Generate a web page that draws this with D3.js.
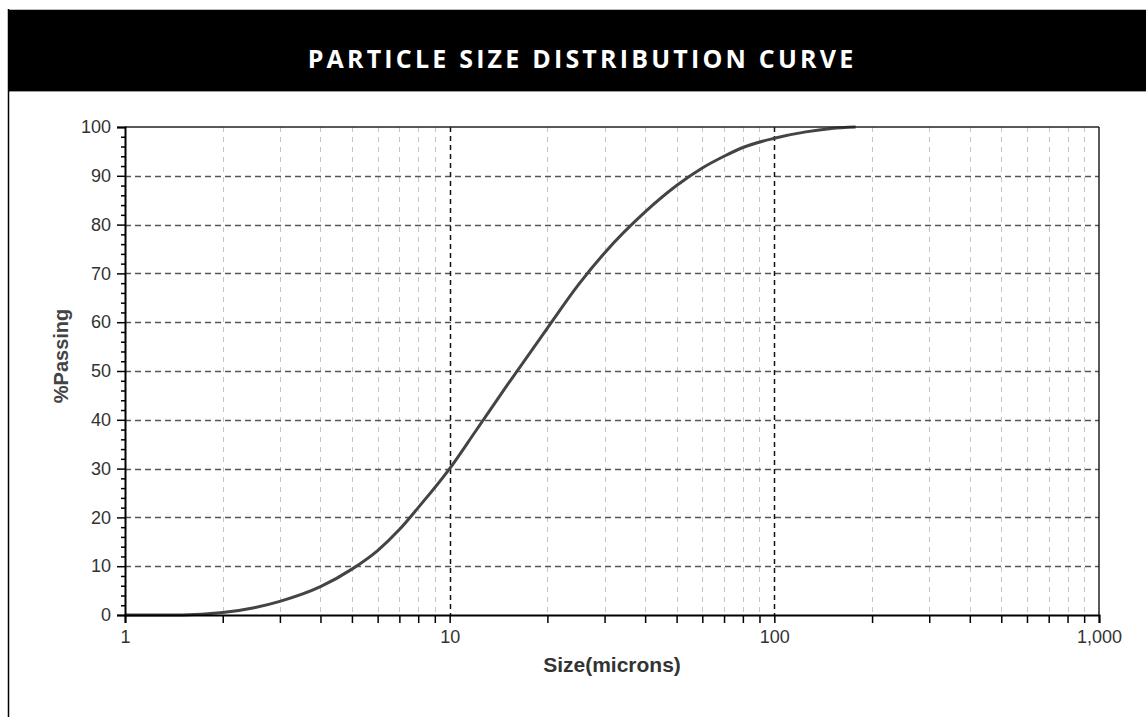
<!DOCTYPE html>
<html>
<head>
<meta charset="utf-8">
<script src="https://cdn.jsdelivr.net/npm/d3@7"></script>
<style>
  body { margin: 0; background: #fff; }
  svg { display: block; }
</style>
</head>
<body>
<div id="chart"></div>
<script>
// particle size (microns) vs cumulative % passing
var sizes   = [1, 1.5, 2, 2.5, 3, 4, 5, 6, 7, 8, 10, 12, 15, 20, 25, 30, 40, 50, 60, 70, 80, 100, 125, 150, 178];
var passing = [0, 0, 0.5, 1.5, 2.8, 5.8, 9.4, 13.2, 17.5, 22, 30, 37.6, 47, 58.8, 67.8, 74.2, 82.6, 88, 91.6, 94, 95.8, 97.7, 99, 99.7, 100];

var yTicks = [0, 10, 20, 30, 40, 50, 60, 70, 80, 90, 100];
var xLabels = [1, 10, 100, 1000];
var title = "PARTICLE SIZE DISTRIBUTION CURVE";

var W = 1146, H = 717;
var m = {left: 125, top: 127, right: 1099, bottom: 615};
var labelFont = "'Liberation Sans', Arial, sans-serif";

var svg = d3.select("#chart").append("svg")
    .attr("width", W)
    .attr("height", H);

// frame + header band
svg.append("line").attr("x1", 8).attr("x2", W).attr("y1", 9.5).attr("y2", 9.5)
    .attr("stroke", "#bbb").attr("stroke-width", 1);
svg.append("rect").attr("x", 8).attr("y", 10).attr("width", W - 8).attr("height", 81)
    .attr("fill", "#000");
svg.append("line").attr("x1", 8).attr("x2", W).attr("y1", 91.5).attr("y2", 91.5)
    .attr("stroke", "#999").attr("stroke-width", 1);
svg.append("line").attr("x1", 8.5).attr("x2", 8.5).attr("y1", 9).attr("y2", H)
    .attr("stroke", "#000").attr("stroke-width", 1.5);

svg.append("text")
    .attr("x", 582).attr("y", 68)
    .attr("text-anchor", "middle")
    .attr("fill", "#fff")
    .style("font-family", "'Open Sans', sans-serif")
    .style("font-weight", 700)
    .style("font-size", "25px")
    .style("letter-spacing", "3.2px")
    .text(title);

var x = d3.scaleLog().domain([1, 1000]).range([m.left, m.right]);
var y = d3.scaleLinear().domain([0, 100]).range([m.bottom, m.top]);

// every 1..9 step in each decade
var xMinor = [];
[1, 10, 100].forEach(function(dec) {
  for (var k = 1; k < 10; k++) xMinor.push(dec * k);
});
xMinor.push(1000);

var grid = svg.append("g");
// light vertical grid
grid.selectAll(".vminor")
    .data(xMinor.filter(function(d) { return xLabels.indexOf(d) < 0; }))
  .enter().append("line")
    .attr("x1", function(d) { return Math.round(x(d)) + 0.5; })
    .attr("x2", function(d) { return Math.round(x(d)) + 0.5; })
    .attr("y1", m.top).attr("y2", m.bottom)
    .attr("stroke", "#c4c4c4").attr("stroke-width", 1)
    .attr("stroke-dasharray", "5,5");
// horizontal grid
grid.selectAll(".h")
    .data(yTicks.filter(function(d) { return d > 0 && d < 100; }))
  .enter().append("line")
    .attr("x1", m.left).attr("x2", m.right)
    .attr("y1", function(d) { return Math.round(y(d)) + 0.5; })
    .attr("y2", function(d) { return Math.round(y(d)) + 0.5; })
    .attr("stroke", "#555").attr("stroke-width", 1.5)
    .attr("stroke-dasharray", "6,4");
// decade lines
grid.selectAll(".vmajor")
    .data([10, 100])
  .enter().append("line")
    .attr("x1", function(d) { return Math.round(x(d)) + 0.5; })
    .attr("x2", function(d) { return Math.round(x(d)) + 0.5; })
    .attr("y1", m.top).attr("y2", m.bottom)
    .attr("stroke", "#111").attr("stroke-width", 1.5)
    .attr("stroke-dasharray", "5,4");

// curve
var line = d3.line()
    .x(function(d) { return x(d[0]); })
    .y(function(d) { return y(d[1]); })
    .curve(d3.curveMonotoneX);

svg.append("path")
    .datum(d3.zip(sizes, passing))
    .attr("d", line)
    .attr("fill", "none")
    .attr("stroke", "#444")
    .attr("stroke-width", 3);

// plot border (top/right)
svg.append("line").attr("x1", m.left).attr("x2", m.right).attr("y1", m.top).attr("y2", m.top)
    .attr("stroke", "#222").attr("stroke-width", 1.5);
svg.append("line").attr("x1", m.right).attr("x2", m.right).attr("y1", m.top).attr("y2", m.bottom)
    .attr("stroke", "#222").attr("stroke-width", 1.5);

// axes
var xAxis = d3.axisBottom(x)
    .tickValues(xMinor)
    .tickSize(8)
    .tickFormat(function(d) { return xLabels.indexOf(d) >= 0 ? d3.format(",")(d) : ""; });

var gx = svg.append("g")
    .attr("transform", "translate(0," + m.bottom + ")")
    .call(xAxis);
gx.select(".domain").attr("stroke", "#000").attr("stroke-width", 2);
gx.selectAll(".tick line").attr("stroke", "#000").attr("stroke-width", 1.5);
gx.selectAll(".tick text")
    .attr("y", 15)
    .attr("fill", "#333")
    .style("font-family", labelFont)
    .style("font-size", "18px");

var yMinor = d3.range(0, 101, 2).filter(function(d) { return d % 10 !== 0; });
svg.append("g")
    .attr("transform", "translate(" + m.left + ",0)")
    .call(d3.axisLeft(y).tickValues(yMinor).tickSize(4).tickFormat(""))
    .call(function(g) {
      g.select(".domain").remove();
      g.selectAll(".tick line").attr("stroke", "#000").attr("stroke-width", 1.5);
    });

var gy = svg.append("g")
    .attr("transform", "translate(" + m.left + ",0)")
    .call(d3.axisLeft(y).tickValues(yTicks).tickSize(8).tickPadding(6));
gy.select(".domain").attr("stroke", "#000").attr("stroke-width", 2);
gy.selectAll(".tick line").attr("stroke", "#000").attr("stroke-width", 1.5);
gy.selectAll(".tick text")
    .attr("fill", "#333")
    .style("font-family", labelFont)
    .style("font-size", "18px");

// axis titles
svg.append("text")
    .attr("x", (m.left + m.right) / 2).attr("y", 672)
    .attr("text-anchor", "middle")
    .attr("fill", "#333")
    .style("font-family", labelFont)
    .style("font-weight", 700)
    .style("font-size", "21px")
    .text("Size(microns)");

svg.append("text")
    .attr("transform", "translate(68,356) rotate(-90)")
    .attr("text-anchor", "middle")
    .attr("fill", "#444")
    .style("font-family", labelFont)
    .style("font-weight", 700)
    .style("font-size", "20px")
    .text("%Passing");
</script>
</body>
</html>
